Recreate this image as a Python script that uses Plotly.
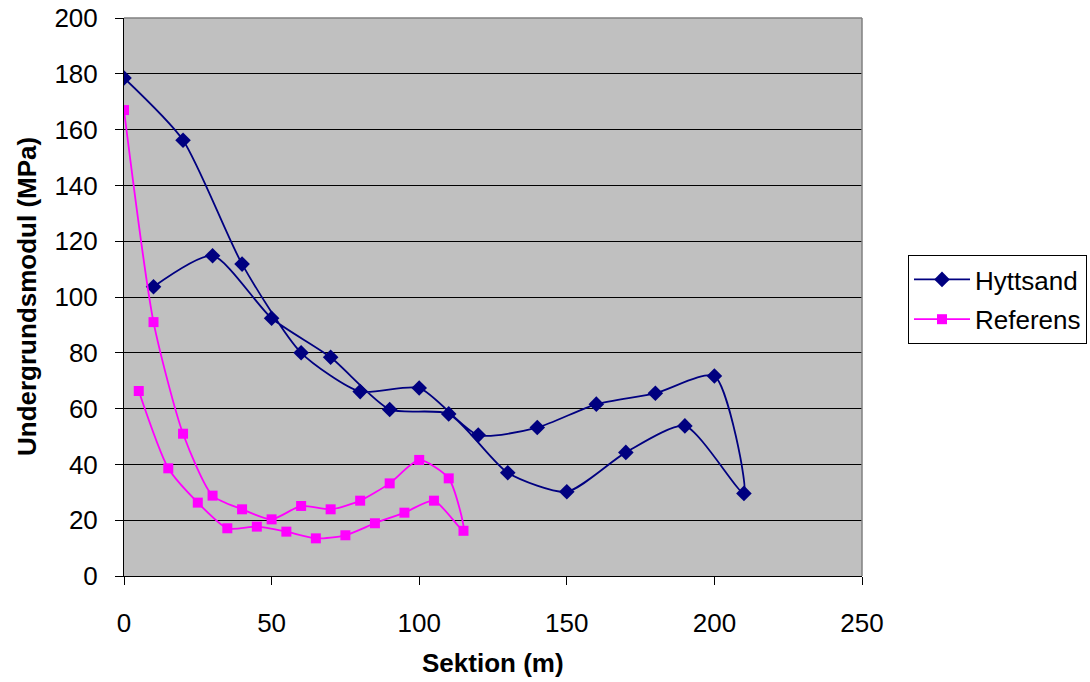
import plotly.graph_objects as go

# Section positions (m) and subgrade modulus (MPa), in measurement order
hyttsand_x = [0, 20, 40, 60, 80, 100, 120, 140, 160, 180, 200,
              210, 190, 170, 150, 130, 110, 90, 70, 50, 30, 10]
hyttsand_y = [178.5, 156.2, 111.8, 80.0, 66.1, 67.4, 50.5, 53.2, 61.6, 65.5, 71.7,
              29.6, 53.8, 44.3, 30.2, 37.0, 58.1, 59.7, 78.4, 92.4, 114.8, 103.7]

referens_x = [0, 10, 20, 30, 40, 50, 60, 70, 80, 90, 100, 110,
              115, 105, 95, 85, 75, 65, 55, 45, 35, 25, 15, 5]
referens_y = [167.0, 91.0, 51.0, 28.8, 23.9, 20.3, 25.1, 23.9, 27.0, 33.2, 41.6, 35.0,
              16.2, 27.0, 22.7, 18.9, 14.6, 13.5, 15.9, 17.7, 17.1, 26.3, 38.6, 66.3]

x_ticks = [0, 50, 100, 150, 200, 250]
y_ticks = list(range(0, 201, 20))

FONT = "Liberation Sans, Arial, sans-serif"
W, H = 1090, 682

fig = go.Figure()
fig.add_trace(go.Scatter(
    x=hyttsand_x, y=hyttsand_y, name="Hyttsand", mode="lines+markers",
    legendgroup="h",
    line=dict(color="#000080", width=1.8, shape="spline", smoothing=0.65),
    marker=dict(symbol="diamond", size=12, color="#000080"),
))
fig.add_trace(go.Scatter(
    x=referens_x, y=referens_y, name="Referens", mode="lines+markers",
    legendgroup="r",
    line=dict(color="#FF00FF", width=1.8, shape="spline", smoothing=0.65),
    marker=dict(symbol="square", size=10, color="#FF00FF"),
))

fig.update_layout(
    width=W, height=H,
    margin=dict(l=124, r=228, t=18, b=106, autoexpand=False),
    paper_bgcolor="white",
    plot_bgcolor="#C0C0C0",
    font=dict(family=FONT, size=26, color="black"),
    showlegend=True,
    legend=dict(
        xref="container", yref="container",
        x=908 / W, y=1 - 255 / H, xanchor="left", yanchor="top",
        bordercolor="black", borderwidth=1, bgcolor="white",
        font=dict(size=26), itemwidth=56,
        traceorder="grouped", tracegroupgap=3,
    ),
    xaxis=dict(
        range=[0, 250], tickvals=x_ticks, showgrid=False, zeroline=False,
        showline=True, linecolor="black", linewidth=1, automargin=False,
        ticks="outside", ticklen=8, tickcolor="black", ticklabelstandoff=16,
    ),
    yaxis=dict(
        range=[0, 200], tickvals=y_ticks, showgrid=True, gridcolor="black",
        gridwidth=1, zeroline=False, automargin=False,
        showline=True, linecolor="black", linewidth=1,
        ticks="outside", ticklen=8, tickcolor="black", ticklabelstandoff=12,
    ),
    shapes=[
        dict(type="line", xref="paper", yref="paper", x0=0, x1=1, y0=1, y1=1,
             line=dict(color="#808080", width=1.5), layer="above"),
        dict(type="line", xref="paper", yref="paper", x0=1, x1=1, y0=0, y1=1,
             line=dict(color="#808080", width=1.5), layer="above"),
    ],
    annotations=[
        dict(text="<b>Sektion (m)</b>", xref="paper", yref="paper",
             x=(493 - 124) / 738, y=-(663 - 576) / 558, xanchor="center", yanchor="middle",
             showarrow=False, font=dict(size=26)),
        dict(text="<b>Undergrundsmodul (MPa)</b>", xref="paper", yref="paper",
             x=-(124 - 27) / 738, y=(576 - 297) / 558, xanchor="center", yanchor="middle",
             textangle=-90, showarrow=False, font=dict(size=26)),
    ],
)

fig.write_html("out.html")
